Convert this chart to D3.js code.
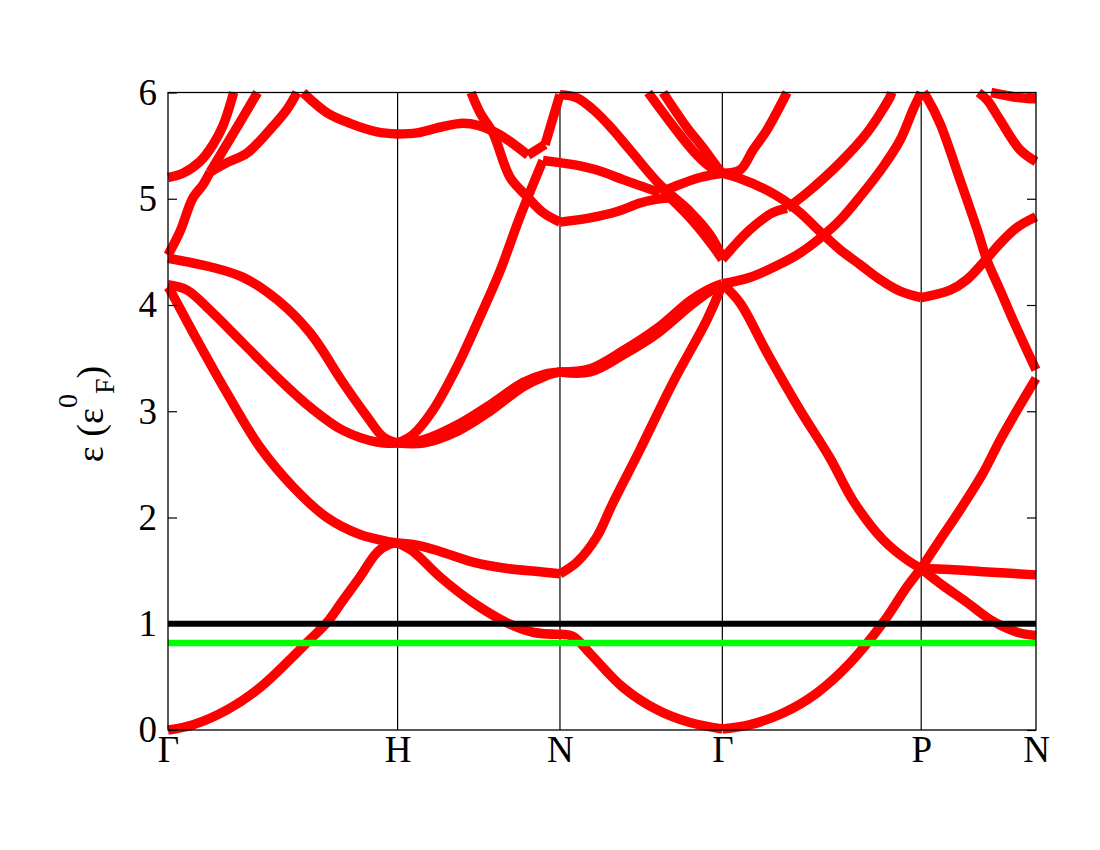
<!DOCTYPE html>
<html>
<head>
<meta charset="utf-8">
<script src="https://cdn.jsdelivr.net/npm/d3@7"></script>
<style>
  html, body { margin: 0; padding: 0; background: #ffffff; }
  svg { display: block; }
  text { font-family: "Liberation Serif", "Times New Roman", "DejaVu Serif", serif; }
</style>
</head>
<body>
<svg id="chart" width="1100" height="850"></svg>
<script>
// ---- tick data ----
const kTicks  = [0, 1.0, 1.7071, 2.4142, 3.2802, 3.7802];
const kLabels = ["Γ", "H", "N", "Γ", "P", "N"];
const yTicks  = [0, 1, 2, 3, 4, 5, 6];
const fermiLevel = 1.0;
const greenLevel = 0.82;

// ---- band curves: [path distance k, energy in units of eps_F^0] ----
const band01 = [[0,0.00],[0.109,0.05],[0.257,0.19],[0.401,0.40],[0.544,0.69],[0.618,0.85],[0.692,1.01],[0.762,1.22],[0.836,1.44],[0.910,1.67],[0.967,1.75],[1.0,1.76],[1.067,1.68],[1.185,1.44],[1.328,1.20],[1.476,1.01],[1.590,0.92],[1.707,0.90],[1.764,0.88],[1.838,0.72],[1.982,0.40],[2.130,0.19],[2.273,0.07],[2.414,0.01],[2.535,0.05],[2.679,0.16],[2.827,0.35],[2.970,0.63],[3.114,1.01],[3.219,1.35],[3.280,1.52],[3.362,1.79],[3.449,2.07],[3.550,2.42],[3.624,2.73],[3.698,3.01],[3.780,3.31]];
const band02 = [[0,4.17],[0.009,4.14],[0.109,3.74],[0.257,3.17],[0.401,2.66],[0.544,2.29],[0.692,2.00],[0.836,1.84],[0.967,1.77],[1.0,1.76],[1.084,1.74],[1.185,1.68],[1.328,1.58],[1.476,1.52],[1.620,1.49],[1.707,1.47],[1.781,1.58],[1.868,1.82],[1.934,2.12],[2.056,2.64],[2.199,3.27],[2.347,3.86],[2.404,4.14],[2.414,4.20],[2.491,4.02],[2.609,3.55],[2.753,3.01],[2.883,2.56],[2.983,2.16],[3.114,1.79],[3.219,1.60],[3.280,1.52],[3.362,1.38],[3.480,1.20],[3.580,1.04],[3.698,0.92],[3.780,0.89]];
const band03 = [[3.280,1.52],[3.406,1.51],[3.550,1.49],[3.780,1.46]];
const band04 = [[0,4.44],[0.183,4.36],[0.327,4.26],[0.475,4.05],[0.618,3.74],[0.762,3.27],[0.867,2.95],[0.936,2.76],[1.0,2.70],[1.067,2.78],[1.154,3.01],[1.259,3.42],[1.359,3.89],[1.446,4.32],[1.533,4.83],[1.633,5.36],[1.707,5.34],[1.794,5.31],[1.868,5.27],[1.982,5.18],[2.086,5.10],[2.143,5.06],[2.199,5.11],[2.317,5.20],[2.414,5.24]];
const band05 = [[0,4.19],[0.083,4.14],[0.183,3.95],[0.327,3.64],[0.475,3.32],[0.618,3.04],[0.762,2.82],[0.910,2.71],[1.0,2.70],[1.111,2.73],[1.259,2.87],[1.402,3.06],[1.546,3.27],[1.642,3.35],[1.707,3.37],[1.838,3.40],[1.982,3.57],[2.130,3.78],[2.273,4.04],[2.347,4.14],[2.414,4.20],[2.535,4.26],[2.679,4.40],[2.753,4.49],[2.840,4.63],[2.927,4.80],[3.014,5.02],[3.114,5.30],[3.188,5.55],[3.245,5.84],[3.280,6.00]];
const band06 = [[1.0,2.70],[1.111,2.70],[1.259,2.81],[1.402,3.00],[1.546,3.23],[1.642,3.33],[1.707,3.37],[1.838,3.37],[1.982,3.53],[2.130,3.73],[2.273,3.99],[2.347,4.11],[2.414,4.20]];
const band07 = [[0,5.20],[0.065,5.24],[0.139,5.35],[0.196,5.51],[0.240,5.69],[0.286,6.00]];
const band08 = [[0,4.47],[0.052,4.69],[0.109,5.01],[0.152,5.13],[0.183,5.25],[0.283,5.61],[0.390,6.00]];
const band09 = [[0.183,5.25],[0.257,5.34],[0.344,5.43],[0.444,5.65],[0.518,5.84],[0.562,6.00]];
const band10 = [[0.588,6.00],[0.692,5.81],[0.793,5.71],[0.910,5.63],[1.0,5.61],[1.084,5.62],[1.198,5.68],[1.285,5.71],[1.350,5.69],[1.446,5.60],[1.568,5.41],[1.642,5.51],[1.707,5.98],[1.781,5.95],[1.851,5.84],[1.925,5.68],[2.012,5.46],[2.143,5.13],[2.273,4.88],[2.361,4.66],[2.414,4.45]];
const band11 = [[1.320,6.00],[1.359,5.81],[1.415,5.62],[1.490,5.20],[1.564,5.02],[1.633,4.87],[1.707,4.78],[1.838,4.82],[1.956,4.88],[2.056,4.96],[2.112,4.99],[2.186,5.01],[2.273,4.82],[2.361,4.59],[2.414,4.43]];
const band12 = [[2.091,6.00],[2.230,5.60],[2.304,5.41],[2.361,5.30],[2.414,5.24]];
const band13 = [[2.156,6.00],[2.260,5.67],[2.330,5.48],[2.391,5.30],[2.414,5.24]];
const band14 = [[2.414,5.24],[2.491,5.27],[2.548,5.46],[2.609,5.65],[2.696,6.00]];
const band15 = [[2.414,5.24],[2.491,5.19],[2.609,5.08],[2.679,4.99],[2.753,4.87],[2.840,4.69],[2.927,4.52],[3.014,4.38],[3.101,4.24],[3.188,4.13],[3.280,4.07],[3.406,4.14],[3.480,4.24],[3.567,4.44],[3.624,4.58],[3.698,4.73],[3.780,4.83]];
const band16 = [[3.290,6.00],[3.306,5.95],[3.362,5.71],[3.449,5.18],[3.524,4.71],[3.567,4.42],[3.624,4.14],[3.680,3.86],[3.780,3.39]];
const band17 = [[3.530,6.00],[3.567,5.93],[3.624,5.74],[3.711,5.46],[3.780,5.35]];
const band18 = [[3.585,6.00],[3.711,5.95],[3.780,5.94]];
const band19 = [[2.414,4.43],[2.535,4.71],[2.635,4.87],[2.696,4.91],[2.796,5.08],[2.927,5.34],[3.044,5.62],[3.145,5.96],[3.152,6.00]];

const bands = [band01, band02, band03, band04, band05, band06, band07, band08, band09, band10,
               band11, band12, band13, band14, band15, band16, band17, band18, band19];

// sharp corners inside a segment (where sorted bands touch): [band number, k]
const kinks = [[4,1.633],[4,2.143],[8,0.183],[10,1.568],[10,1.642],[11,2.186],[19,2.696]];

// ---- layout ----
const plotLeft = 168, plotRight = 1036, plotTop = 92.5, plotBottom = 730;
const svg = d3.select("#chart");

const x = d3.scaleLinear().domain([0, kTicks[kTicks.length - 1]]).range([plotLeft, plotRight]);
const y = d3.scaleLinear().domain([0, 6]).range([plotBottom, plotTop]);

// split each band into smooth pieces at high-symmetry points and kinks
function pieces(band, bi) {
  const breaks = new Set(kinks.filter(d => d[0] === bi + 1).map(d => d[1]));
  const isBreak = k => breaks.has(k) || kTicks.some(t => Math.abs(t - k) < 0.004);
  const out = [];
  let cur = [band[0]];
  for (let i = 1; i < band.length; i++) {
    cur.push(band[i]);
    if (isBreak(band[i][0]) && i < band.length - 1) {
      out.push(cur);
      cur = [band[i]];
    }
  }
  out.push(cur);
  return out;
}
const segs = bands.flatMap((b, i) => pieces(b, i));

// vertical high-symmetry lines
svg.append("g")
  .selectAll("line")
  .data(kTicks.slice(1, -1))
  .join("line")
  .attr("x1", d => x(d)).attr("x2", d => x(d))
  .attr("y1", plotTop).attr("y2", plotBottom)
  .attr("stroke", "#000").attr("stroke-width", 1.2);

// bands
const line = d3.line().x(d => x(d[0])).y(d => y(d[1])).curve(d3.curveCatmullRom.alpha(0.5));
svg.append("g")
  .attr("fill", "none")
  .attr("stroke", "#ff0000")
  .attr("stroke-width", 9.5)
  .attr("stroke-linejoin", "miter")
  .attr("stroke-miterlimit", 4)
  .attr("stroke-linecap", "butt")
  .selectAll("path")
  .data(segs)
  .join("path")
  .attr("d", line);

// horizontal reference lines
svg.append("line")
  .attr("x1", plotLeft).attr("x2", plotRight)
  .attr("y1", y(fermiLevel)).attr("y2", y(fermiLevel))
  .attr("stroke", "#000").attr("stroke-width", 6);
svg.append("line")
  .attr("x1", plotLeft).attr("x2", plotRight)
  .attr("y1", y(greenLevel)).attr("y2", y(greenLevel))
  .attr("stroke", "#00ff00").attr("stroke-width", 6.5);

// frame
svg.append("rect")
  .attr("x", plotLeft).attr("y", plotTop)
  .attr("width", plotRight - plotLeft).attr("height", plotBottom - plotTop)
  .attr("fill", "none").attr("stroke", "#000").attr("stroke-width", 1.3);

const serif = '"Liberation Serif", "Times New Roman", serif';

// left axis
const gl = svg.append("g").attr("transform", `translate(${plotLeft},0)`)
  .call(d3.axisLeft(y).tickValues(yTicks).tickFormat(d3.format("d")).tickSize(-9).tickPadding(11));
gl.attr("font-family", serif);
gl.select(".domain").remove();
gl.selectAll("line").attr("stroke", "#000").attr("stroke-width", 1.2);
gl.selectAll("text").attr("font-size", 37).attr("fill", "#000").style("font-family", serif);

// right axis (ticks only)
const gr = svg.append("g").attr("transform", `translate(${plotRight},0)`)
  .call(d3.axisRight(y).tickValues(yTicks).tickFormat("").tickSize(-9));
gr.select(".domain").remove();
gr.selectAll("line").attr("stroke", "#000").attr("stroke-width", 1.2);

// bottom axis labels
const gb = svg.append("g").attr("transform", `translate(0,${plotBottom})`)
  .call(d3.axisBottom(x).tickValues(kTicks).tickFormat((d, i) => kLabels[i]).tickSize(0).tickPadding(6));
gb.attr("font-family", serif);
gb.select(".domain").remove();
gb.selectAll("text").attr("font-size", 37).attr("fill", "#000").style("font-family", serif);

// y-axis title
const yt = svg.append("text")
  .attr("transform", "translate(103,414) rotate(-90)")
  .attr("text-anchor", "middle")
  .attr("font-size", 38)
  .attr("fill", "#000")
  .style("font-family", serif);
yt.append("tspan").text("ε (ε");
yt.append("tspan").attr("dy", -26).attr("font-size", 28).text("0");
yt.append("tspan").attr("dy", 37).attr("font-size", 28).text("F");
yt.append("tspan").attr("dy", -11).text(")");
</script>
</body>
</html>
